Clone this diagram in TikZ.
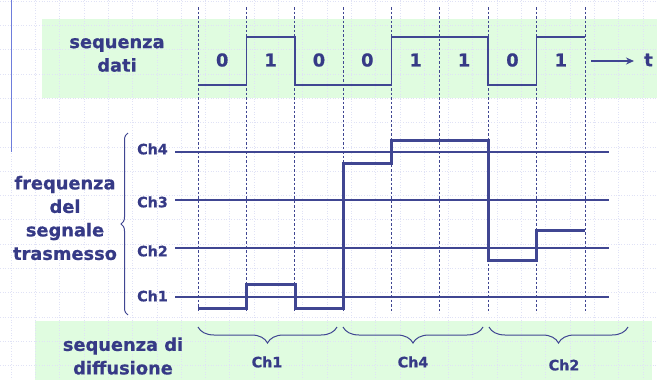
\documentclass[tikz,border=0pt]{standalone}
\usepackage{fontspec}
\setmainfont{DejaVu Sans}[BoldFeatures={FakeBold=0.7}]
\usetikzlibrary{decorations.pathreplacing,arrows.meta}
\definecolor{txt}{RGB}{54,58,134}
\definecolor{ln}{RGB}{64,70,146}
\definecolor{bandgreen}{RGB}{224,252,224}
\definecolor{gridc}{RGB}{224,226,246}
\definecolor{leftline}{RGB}{110,125,220}
\begin{document}
\begin{tikzpicture}[x=1pt,y=-1pt,
  lbl/.style={font=\fontsize{17.8}{23.5}\selectfont\bfseries, text=txt, align=center, inner sep=0pt},
  chl/.style={font=\fontsize{14.3}{16}\selectfont\bfseries, text=txt, inner sep=0pt},
  bitl/.style={font=\fontsize{17.8}{20}\selectfont\bfseries, text=txt, inner sep=0pt},
  level/.style={draw=ln, line width=1.2pt},
  divider/.style={draw=ln, line width=0.8pt, dash pattern=on 2.5pt off 2pt},
  datawave/.style={draw=ln, line width=1.2pt},
  sig/.style={draw=ln, line width=3pt, line join=miter},
  bracestyle/.style={draw=ln, line width=1pt, decorate, decoration={brace, amplitude=#1}},
  gridline/.style={draw=gridc, line width=0.6pt, dotted},
]
\useasboundingbox (0,0) rectangle (657,380);
\fill[white] (0,0) rectangle (657,380);
% green bands
\fill[bandgreen] (42,19) rectangle (657,98);
\fill[bandgreen] (35,321) rectangle (652,380);
% background grid
\foreach \k in {0,...,26} \draw[gridline] (11+24.3*\k,0) -- (11+24.3*\k,380);
\foreach \k in {0,...,15} \draw[gridline] (0,1+24.3*\k) -- (657,1+24.3*\k);
% left slide line
\draw[leftline, line width=1pt] (11,0) -- (11,152);
% dividers
\foreach \i in {0,...,8} \draw[divider] (198+48.375*\i,7) -- (198+48.375*\i,313);
% channel level lines
\foreach \y/\n in {152/4,200/3,248/2,297/1} {
  \coordinate (c\n a) at (175,\y);
  \coordinate (c\n b) at (609,\y);
  \draw[level] (c\n a) -- (c\n b);
}
% data wave
\draw[datawave] (198,85) -- (246.5,85) -- (246.5,37) -- (295,37) -- (295,85) -- (391.5,85)
  -- (391.5,37) -- (488,37) -- (488,85) -- (536.5,85) -- (536.5,37) -- (585,37);
% bits
\foreach \b [count=\i from 0] in {0,1,0,0,1,1,0,1}
  \node[bitl] (bit\i) at (222.2+48.375*\i,60) {\b};
% time arrow
\coordinate (ta) at (591,61);
\node[bitl, anchor=west] (tlab) at (644,60) {t};
\draw[ln, line width=1.2pt, -{Stealth[length=8pt,width=7pt]}] (ta) -- (634,61);
% labels
\node[lbl] (seqdati) at (117,55) {sequenza\\dati};
\node[lbl] (freq) at (65,218) {frequenza\\del\\segnale\\trasmesso};
\node[lbl] (seqdiff) at (123,356) {sequenza di\\diffusione};
% channel labels
\node[chl, anchor=east] (l4) at (168,149) {Ch4};
\node[chl, anchor=east] (l3) at (168,202) {Ch3};
\node[chl, anchor=east] (l2) at (168,251) {Ch2};
\node[chl, anchor=east] (l1) at (168,296) {Ch1};
% left brace
\draw[bracestyle=7] (128,315) -- (128,133);
% transmitted signal
\draw[sig] (198,308) -- (246.5,308) -- (246.5,284) -- (295,284) -- (295,308) -- (343,308)
  -- (343,163) -- (391.5,163) -- (391.5,140) -- (488,140) -- (488,260) -- (536.5,260)
  -- (536.5,230) -- (585,230);
% bottom braces
\draw[bracestyle=16, decoration={mirror}] (198,327) -- (337,327);
\draw[bracestyle=16, decoration={mirror}] (343,327) -- (483,327);
\draw[bracestyle=16, decoration={mirror}] (489,327) -- (628,327);
\node[chl] (b1) at (267,362) {Ch1};
\node[chl] (b4) at (413,362) {Ch4};
\node[chl] (b2) at (564,365) {Ch2};
\end{tikzpicture}
\end{document}
